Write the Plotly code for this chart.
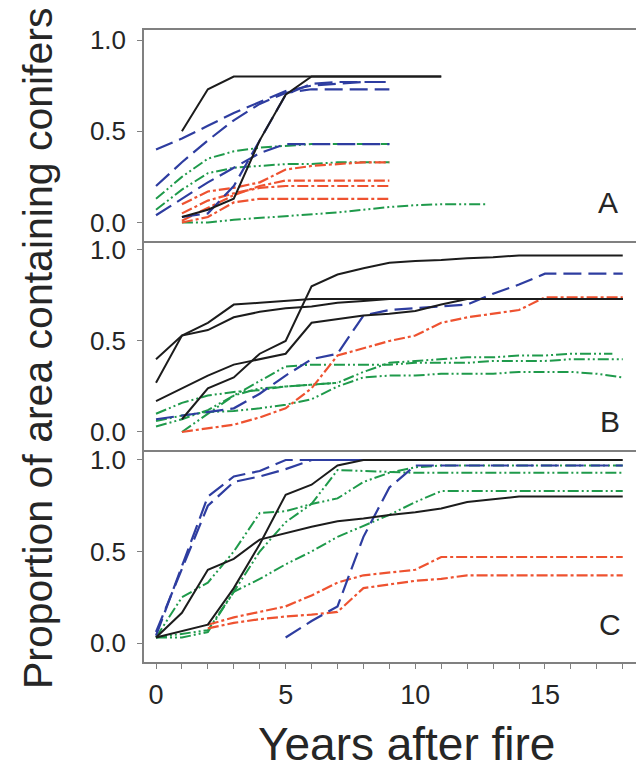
import plotly.graph_objects as go
from plotly.subplots import make_subplots

# ---------------- data ----------------
yrs_0_9 = [0, 1, 2, 3, 4, 5, 6, 7, 8, 9]
yrs_1_9 = [1, 2, 3, 4, 5, 6, 7, 8, 9]
yrs_1_11 = [1, 2, 3, 4, 5, 6, 7, 8, 9, 10, 11]
yrs_0_18 = list(range(0, 19))
yrs_1_18 = list(range(1, 19))

# Panel A
A_black1 = [0.50, 0.73, 0.80, 0.80, 0.80, 0.80, 0.80, 0.80, 0.80, 0.80, 0.80]
A_black2 = [0.03, 0.07, 0.13, 0.45, 0.70, 0.80, 0.80, 0.80, 0.80, 0.80, 0.80]
A_blue1 = [0.40, 0.46, 0.53, 0.60, 0.66, 0.72, 0.75, 0.76, 0.77, 0.77]
A_blue2 = [0.20, 0.33, 0.45, 0.56, 0.65, 0.71, 0.73, 0.73, 0.73, 0.73]
A_blue3 = [0.04, 0.13, 0.22, 0.30, 0.38, 0.43, 0.43, 0.43, 0.43, 0.43]
A_blue4 = [0.03, 0.05, 0.20, 0.45, 0.70, 0.76, 0.77, 0.77, 0.77]
A_green1 = [0.13, 0.25, 0.35, 0.39, 0.41, 0.42, 0.43, 0.43, 0.43, 0.43]
A_green2 = [0.07, 0.18, 0.27, 0.30, 0.31, 0.32, 0.32, 0.33, 0.33, 0.33]
A_green3_x = [1, 2, 3, 4, 5, 6, 7, 8, 9, 10, 11, 12, 12.8]
A_green3 = [0.0, 0.0, 0.015, 0.025, 0.035, 0.045, 0.055, 0.07, 0.085, 0.095, 0.10, 0.10, 0.10]
A_red1 = [0.10, 0.17, 0.19, 0.22, 0.29, 0.31, 0.32, 0.33, 0.33]
A_red2 = [0.01, 0.08, 0.15, 0.20, 0.23, 0.23, 0.23, 0.23, 0.23]
A_red3 = [0.05, 0.12, 0.16, 0.19, 0.20, 0.20, 0.20, 0.20, 0.20]
A_red4 = [0.00, 0.03, 0.11, 0.13, 0.13, 0.13, 0.13, 0.13, 0.13]

# Panel B
B_black1 = [0.40, 0.53, 0.60, 0.70, 0.71, 0.72, 0.73, 0.73, 0.73, 0.73, 0.73, 0.73, 0.73, 0.73, 0.73, 0.73, 0.73, 0.73, 0.73]
B_black2 = [0.27, 0.53, 0.56, 0.63, 0.66, 0.68, 0.69, 0.71, 0.72, 0.73, 0.73, 0.73, 0.73, 0.73, 0.73, 0.73, 0.73, 0.73, 0.73]
B_black3 = [0.17, 0.24, 0.31, 0.37, 0.40, 0.43, 0.60, 0.62, 0.64, 0.65, 0.665, 0.70, 0.73, 0.73, 0.73, 0.73, 0.73, 0.73, 0.73]
B_black4 = [0.07, 0.24, 0.30, 0.43, 0.50, 0.80, 0.865, 0.90, 0.93, 0.94, 0.945, 0.955, 0.96, 0.97, 0.97, 0.97, 0.97, 0.97]
B_blue1 = [0.07, 0.09, 0.11, 0.13, 0.21, 0.31, 0.40, 0.43, 0.64, 0.67, 0.68, 0.69, 0.70, 0.76, 0.81, 0.87, 0.87, 0.87, 0.87]
B_red1 = [0.0, 0.02, 0.04, 0.08, 0.13, 0.24, 0.42, 0.46, 0.50, 0.53, 0.60, 0.63, 0.65, 0.67, 0.74, 0.74, 0.74, 0.74]
B_green1_x = [0, 1, 2, 3, 4, 5, 6, 7, 8, 9, 10, 11, 12, 13, 14, 15, 16, 17, 17.6]
B_green1 = [0.10, 0.16, 0.20, 0.22, 0.23, 0.25, 0.26, 0.27, 0.33, 0.38, 0.39, 0.40, 0.41, 0.41, 0.42, 0.42, 0.43, 0.43, 0.43]
B_green2 = [0.03, 0.07, 0.12, 0.20, 0.28, 0.36, 0.37, 0.37, 0.37, 0.37, 0.38, 0.38, 0.38, 0.39, 0.39, 0.39, 0.40, 0.40, 0.40]
B_green3 = [0.06, 0.09, 0.11, 0.115, 0.13, 0.15, 0.18, 0.25, 0.30, 0.31, 0.31, 0.32, 0.32, 0.32, 0.33, 0.33, 0.33, 0.32, 0.30]
B_green4_x = [1, 2, 3, 4, 5, 6, 7]
B_green4 = [0.0, 0.10, 0.20, 0.24, 0.25, 0.26, 0.27]

# Panel C
C_black1 = [0.03, 0.165, 0.40, 0.46, 0.565, 0.60, 0.635, 0.665, 0.68, 0.70, 0.715, 0.735, 0.77, 0.785, 0.80, 0.80, 0.80, 0.80, 0.80]
C_black2 = [0.03, 0.065, 0.10, 0.30, 0.54, 0.81, 0.865, 0.97, 1.0, 1.0, 1.0, 1.0, 1.0, 1.0, 1.0, 1.0, 1.0, 1.0, 1.0]
C_blue_x = [0, 1, 2, 3, 4, 5, 6, 7, 8]
C_blue1 = [0.04, 0.42, 0.80, 0.91, 0.94, 1.0, 1.0, 1.0, 1.0]
C_blue2 = [0.06, 0.40, 0.75, 0.88, 0.91, 0.95, 1.0, 1.0, 1.0]
C_blue3_x = list(range(5, 19))
C_blue3 = [0.03, 0.12, 0.20, 0.58, 0.85, 0.97, 0.97, 0.97, 0.97, 0.97, 0.97, 0.97, 0.97, 0.97]
C_green1 = [0.03, 0.25, 0.33, 0.50, 0.71, 0.72, 0.76, 0.945, 0.94, 0.935, 0.93, 0.93, 0.93, 0.93, 0.93, 0.93, 0.93, 0.93, 0.93]
C_green2 = [0.03, 0.03, 0.06, 0.28, 0.50, 0.66, 0.76, 0.79, 0.88, 0.93, 0.96, 0.97, 0.97, 0.97, 0.97, 0.97, 0.97, 0.97, 0.97]
C_green3 = [0.03, 0.05, 0.07, 0.28, 0.35, 0.43, 0.50, 0.58, 0.64, 0.70, 0.77, 0.83, 0.83, 0.83, 0.83, 0.83, 0.83, 0.83, 0.83]
C_red_x = list(range(2, 19))
C_red1 = [0.10, 0.14, 0.17, 0.20, 0.26, 0.33, 0.37, 0.385, 0.40, 0.47, 0.47, 0.47, 0.47, 0.47, 0.47, 0.47, 0.47]
C_red2 = [0.08, 0.11, 0.13, 0.145, 0.155, 0.17, 0.30, 0.32, 0.34, 0.35, 0.37, 0.37, 0.37, 0.37, 0.37, 0.37, 0.37]

x_tickvals = list(range(0, 19))
x_ticktext = ["0", "", "", "", "", "5", "", "", "", "", "10", "", "", "", "", "15", "", "", ""]
y_tickvals = [0.0, 0.5, 1.0]
y_ticktext = ["0.0", "0.5", "1.0"]
panel_labels = ["A", "B", "C"]

# ---------------- styles ----------------
FONT = "Liberation Sans, Arial, Helvetica, sans-serif"
TXT = "#262626"
AX = "#808080"
STY = {
    "k": dict(color="#1c1c1c", width=2.0, dash="solid"),
    "b": dict(color="#2e3da0", width=2.2, dash="18px,7px"),
    "g": dict(color="#1f9a4b", width=2.0, dash="11px,3px,2px,3px,2px,3px"),
    "r": dict(color="#ee5230", width=2.2, dash="11px,3px,3px,3px"),
}

fig = make_subplots(rows=3, cols=1, shared_xaxes=True, vertical_spacing=0)

def add(row, x, y, kind):
    fig.add_trace(go.Scatter(x=x, y=y, mode="lines", line=STY[kind],
                             showlegend=False, hoverinfo="skip"), row=row, col=1)

# Panel A
add(1, yrs_0_9, A_green1, "g"); add(1, yrs_0_9, A_green2, "g"); add(1, A_green3_x, A_green3, "g")
add(1, yrs_1_9, A_red1, "r"); add(1, yrs_1_9, A_red2, "r"); add(1, yrs_1_9, A_red3, "r"); add(1, yrs_1_9, A_red4, "r")
add(1, yrs_0_9, A_blue1, "b"); add(1, yrs_0_9, A_blue2, "b"); add(1, yrs_0_9, A_blue3, "b"); add(1, yrs_1_9, A_blue4, "b")
add(1, yrs_1_11, A_black1, "k"); add(1, yrs_1_11, A_black2, "k")
# Panel B
add(2, B_green1_x, B_green1, "g"); add(2, yrs_0_18, B_green2, "g"); add(2, yrs_0_18, B_green3, "g"); add(2, B_green4_x, B_green4, "g")
add(2, yrs_1_18, B_red1, "r")
add(2, yrs_0_18, B_blue1, "b")
add(2, yrs_0_18, B_black1, "k"); add(2, yrs_0_18, B_black2, "k"); add(2, yrs_0_18, B_black3, "k"); add(2, yrs_1_18, B_black4, "k")
# Panel C
add(3, yrs_0_18, C_green1, "g"); add(3, yrs_0_18, C_green2, "g"); add(3, yrs_0_18, C_green3, "g")
add(3, C_red_x, C_red1, "r"); add(3, C_red_x, C_red2, "r")
add(3, C_blue_x, C_blue1, "b"); add(3, C_blue_x, C_blue2, "b"); add(3, C_blue3_x, C_blue3, "b")
add(3, yrs_0_18, C_black1, "k"); add(3, yrs_0_18, C_black2, "k")

# page body has an 8px margin: figure is sized/positioned to compensate
OFF = 8
W, H = 644 - OFF, 770 - OFF
ML, MR, MT = 144 - OFF, 0, 30 - OFF
MB = H - (662 - OFF)
PH = H - MT - MB
PW = W - ML - MR

def py(p):  # screen pixel y -> paper
    return (H - MB - (p - OFF)) / PH

def px(p):  # screen pixel x -> paper
    return (p - OFF - ML) / PW

dom = [(py(240.7), 1.0), (py(450), py(240.7)), (0.0, py(450))]
ranges = [(-0.0997, 1.0548), (-0.099, 1.051), (-0.1038, 1.0546)]

for i in range(3):
    yk = "yaxis" if i == 0 else f"yaxis{i+1}"
    xk = "xaxis" if i == 0 else f"xaxis{i+1}"
    fig.layout[yk].update(domain=list(dom[i]), range=list(ranges[i]),
                          tickvals=y_tickvals, ticktext=y_ticktext,
                          showgrid=False, zeroline=False, showline=True,
                          linecolor=AX, linewidth=1.5, ticks="outside", ticklen=5,
                          tickwidth=1.3, tickcolor=AX,
                          tickfont=dict(family=FONT, size=26, color=TXT),
                          ticklabelstandoff=6)
    fig.layout[xk].update(range=[-0.463, 18.82], showgrid=False, zeroline=False,
                          showline=True, mirror=(i == 0), linecolor=AX,
                          linewidth=1.5,
                          tickvals=x_tickvals, ticktext=x_ticktext,
                          ticks="outside" if i == 2 else "", ticklen=5,
                          tickwidth=1.3, tickcolor=AX,
                          showticklabels=(i == 2),
                          tickfont=dict(family=FONT, size=27, color=TXT),
                          ticklabelstandoff=3)

ann = []
for lab, (xp, yp) in zip(panel_labels, [(608, 202), (610, 421), (610, 624)]):
    ann.append(dict(text=lab, xref="paper", yref="paper", x=px(xp), y=py(yp),
                    xanchor="center", yanchor="middle", showarrow=False,
                    font=dict(family=FONT, size=30, color=TXT)))
ann.append(dict(text="Proportion of area containing conifers", xref="paper", yref="paper",
                x=px(38), y=py(349), textangle=-90,
                xanchor="center", yanchor="middle", showarrow=False,
                font=dict(family=FONT, size=41, color=TXT)))
ann.append(dict(text="Years after fire", xref="paper", yref="paper",
                x=px(406), y=py(772),
                xanchor="center", yanchor="bottom", showarrow=False,
                font=dict(family=FONT, size=46, color=TXT)))

fig.update_layout(width=W, height=H, margin=dict(l=ML, r=MR, t=MT, b=MB),
                  paper_bgcolor="white", plot_bgcolor="white", annotations=ann)

fig.write_html("out.html")
